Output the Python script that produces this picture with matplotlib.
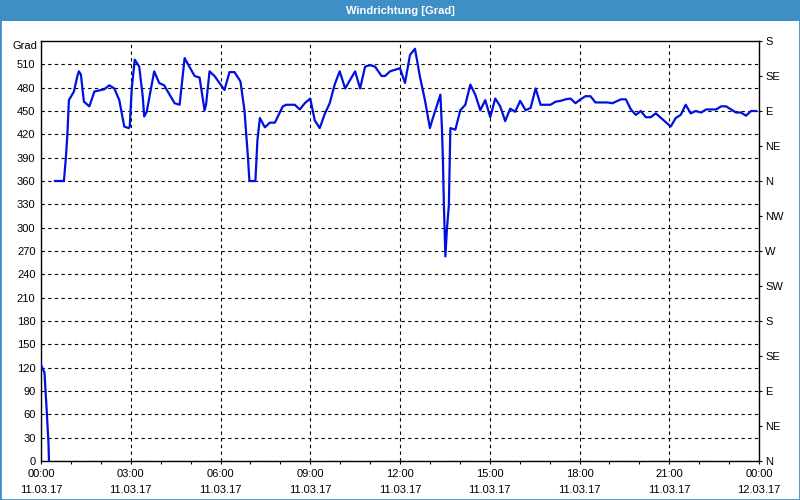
import numpy as np
import matplotlib
matplotlib.use("Agg")
import matplotlib.pyplot as plt
import matplotlib.transforms as mtransforms
from matplotlib.patches import Rectangle

# ---- data: minutes since 11.03.17 00:00, wind direction in degrees ----
seg1_min = [0, 3, 7, 9, 11, 13, 15, 16]
seg1_val = [124, 119, 114, 91, 70, 46, 23, 0]

seg2_min = [28, 46, 50, 53, 56, 66, 73, 76, 80, 86, 97, 107, 120, 127, 137, 147, 157,
            167, 176, 178, 182, 188, 197, 204, 207, 212, 227, 237, 247, 268, 278, 288,
            308, 318, 328, 331, 338, 348, 368, 378, 388, 400, 408, 415, 418, 430, 434,
            439, 449, 459, 469, 485, 492, 509, 519, 529, 540, 549, 559, 569, 579, 589,
            599, 610, 630, 640, 650, 660, 670, 683, 690, 700, 710, 720, 730, 740, 750,
            760, 770, 780, 784, 801, 804, 806, 808, 811, 814, 818, 820, 821, 831, 841,
            851, 861, 871, 881, 891, 901, 911, 921, 931, 941, 951, 961, 972, 982, 992,
            1002, 1022, 1032, 1042, 1052, 1062, 1072, 1082, 1092, 1102, 1112, 1136, 1146,
            1163, 1173, 1183, 1193, 1203, 1213, 1223, 1233, 1263, 1273, 1283, 1293, 1303,
            1313, 1324, 1334, 1354, 1364, 1374, 1394, 1404, 1414, 1424, 1434]
seg2_val = [360, 360, 391, 421, 464, 475, 495, 501, 497, 462, 456, 475, 477, 478, 483, 479, 464,
            430, 428, 430, 479, 516, 507, 469, 443, 449, 501, 486, 483, 460, 458, 518,
            495, 493, 451, 458, 501, 495, 477, 500, 500, 488, 451, 391, 360, 360, 412,
            441, 429, 435, 435, 456, 458, 458, 452, 460, 466, 438, 428, 446, 460, 484,
            501, 479, 501, 479, 507, 509, 507, 495, 495, 501, 503, 505, 486, 522, 530,
            494, 464, 428, 437, 471, 430, 389, 330, 263, 297, 329, 393, 428, 426, 451,
            458, 484, 471, 451, 464, 442, 466, 456, 437, 453, 449, 463, 451, 454, 479,
            458, 458, 462, 463, 465, 466, 460, 465, 469, 469, 461, 461, 460,
            465, 465, 452, 445, 450, 442, 442, 447, 430, 441, 445, 458, 447,
            450, 448, 452, 452, 456, 456, 448, 448, 444, 450, 450]

left_ticks = list(range(0, 540, 30))
right_ticks = list(range(0, 541, 45))
right_labels = ["N", "NE", "E", "SE", "S", "SW", "W", "NW", "N", "NE", "E", "SE", "S"]
x_ticks = list(range(0, 1441, 180))
x_labels = ["00:00\n11.03.17", "03:00\n11.03.17", "06:00\n11.03.17", "09:00\n11.03.17",
            "12:00\n11.03.17", "15:00\n11.03.17", "18:00\n11.03.17", "21:00\n11.03.17",
            "00:00\n12.03.17"]
title = "Windrichtung [Grad]"
unit = "Grad"

# ---- style ----
BAR = "#3d8fc6"
LINE = "#0010e0"
FONT = "Liberation Sans"
FS = 8

fig = plt.figure(figsize=(8, 5), dpi=100, facecolor="white")

# title bar + frame
fig.patches.append(Rectangle((0, 1 - 20.5 / 500), 1, 20.5 / 500, transform=fig.transFigure,
                             facecolor=BAR, edgecolor="none", zorder=0))
fig.patches.append(Rectangle((0, 0), 1, 1, transform=fig.transFigure, facecolor="none",
                             edgecolor=BAR, linewidth=2, zorder=5))
fig.text(0.5, 1 - 10.5 / 500, title, color="white", ha="center", va="center",
         fontsize=8, fontweight="bold", family=FONT)

ax = fig.add_axes([41 / 800, 39 / 500, 718 / 800, 420 / 500])
ax.set_facecolor("white")
ax.plot(seg1_min, seg1_val, color=LINE, lw=1.6, zorder=3, solid_joinstyle="round")
ax.plot(seg2_min, seg2_val, color=LINE, lw=1.6, zorder=3, solid_joinstyle="round")

ax.set_xlim(0, 1440)
ax.set_ylim(0, 540)
ax.set_yticks(left_ticks)
ax.set_yticklabels([str(v) for v in left_ticks], family=FONT, fontsize=FS)
ax.set_xticks(x_ticks)
ax.set_xticklabels(x_labels, family=FONT, fontsize=FS, linespacing=1.75)
ax.set_xticks(list(range(60, 1440, 60)), minor=True)
ax.tick_params(axis="y", which="both", length=0, pad=4)
ax.tick_params(axis="x", which="both", length=2.5, width=0.8, direction="out", pad=3)

for s in ax.spines.values():
    s.set_color("black")
    s.set_linewidth(1)

ax.grid(True, which="major", color="black", linestyle=(0, (3, 3)), linewidth=0.8)
ax.set_axisbelow(True)

trans = mtransforms.blended_transform_factory(ax.transAxes, ax.transData)
ax.text(-4 / 718, 534, unit, transform=trans, ha="right", va="center",
        family=FONT, fontsize=FS)

ax2 = ax.twinx()
ax2.set_ylim(0, 540)
ax2.set_yticks(right_ticks)
ax2.set_yticklabels(right_labels, family=FONT, fontsize=FS)
ax2.tick_params(axis="y", length=2.5, width=0.8, direction="out", pad=2)
for s in ax2.spines.values():
    s.set_visible(False)

fig.savefig("out.png", dpi=100, facecolor="white")
